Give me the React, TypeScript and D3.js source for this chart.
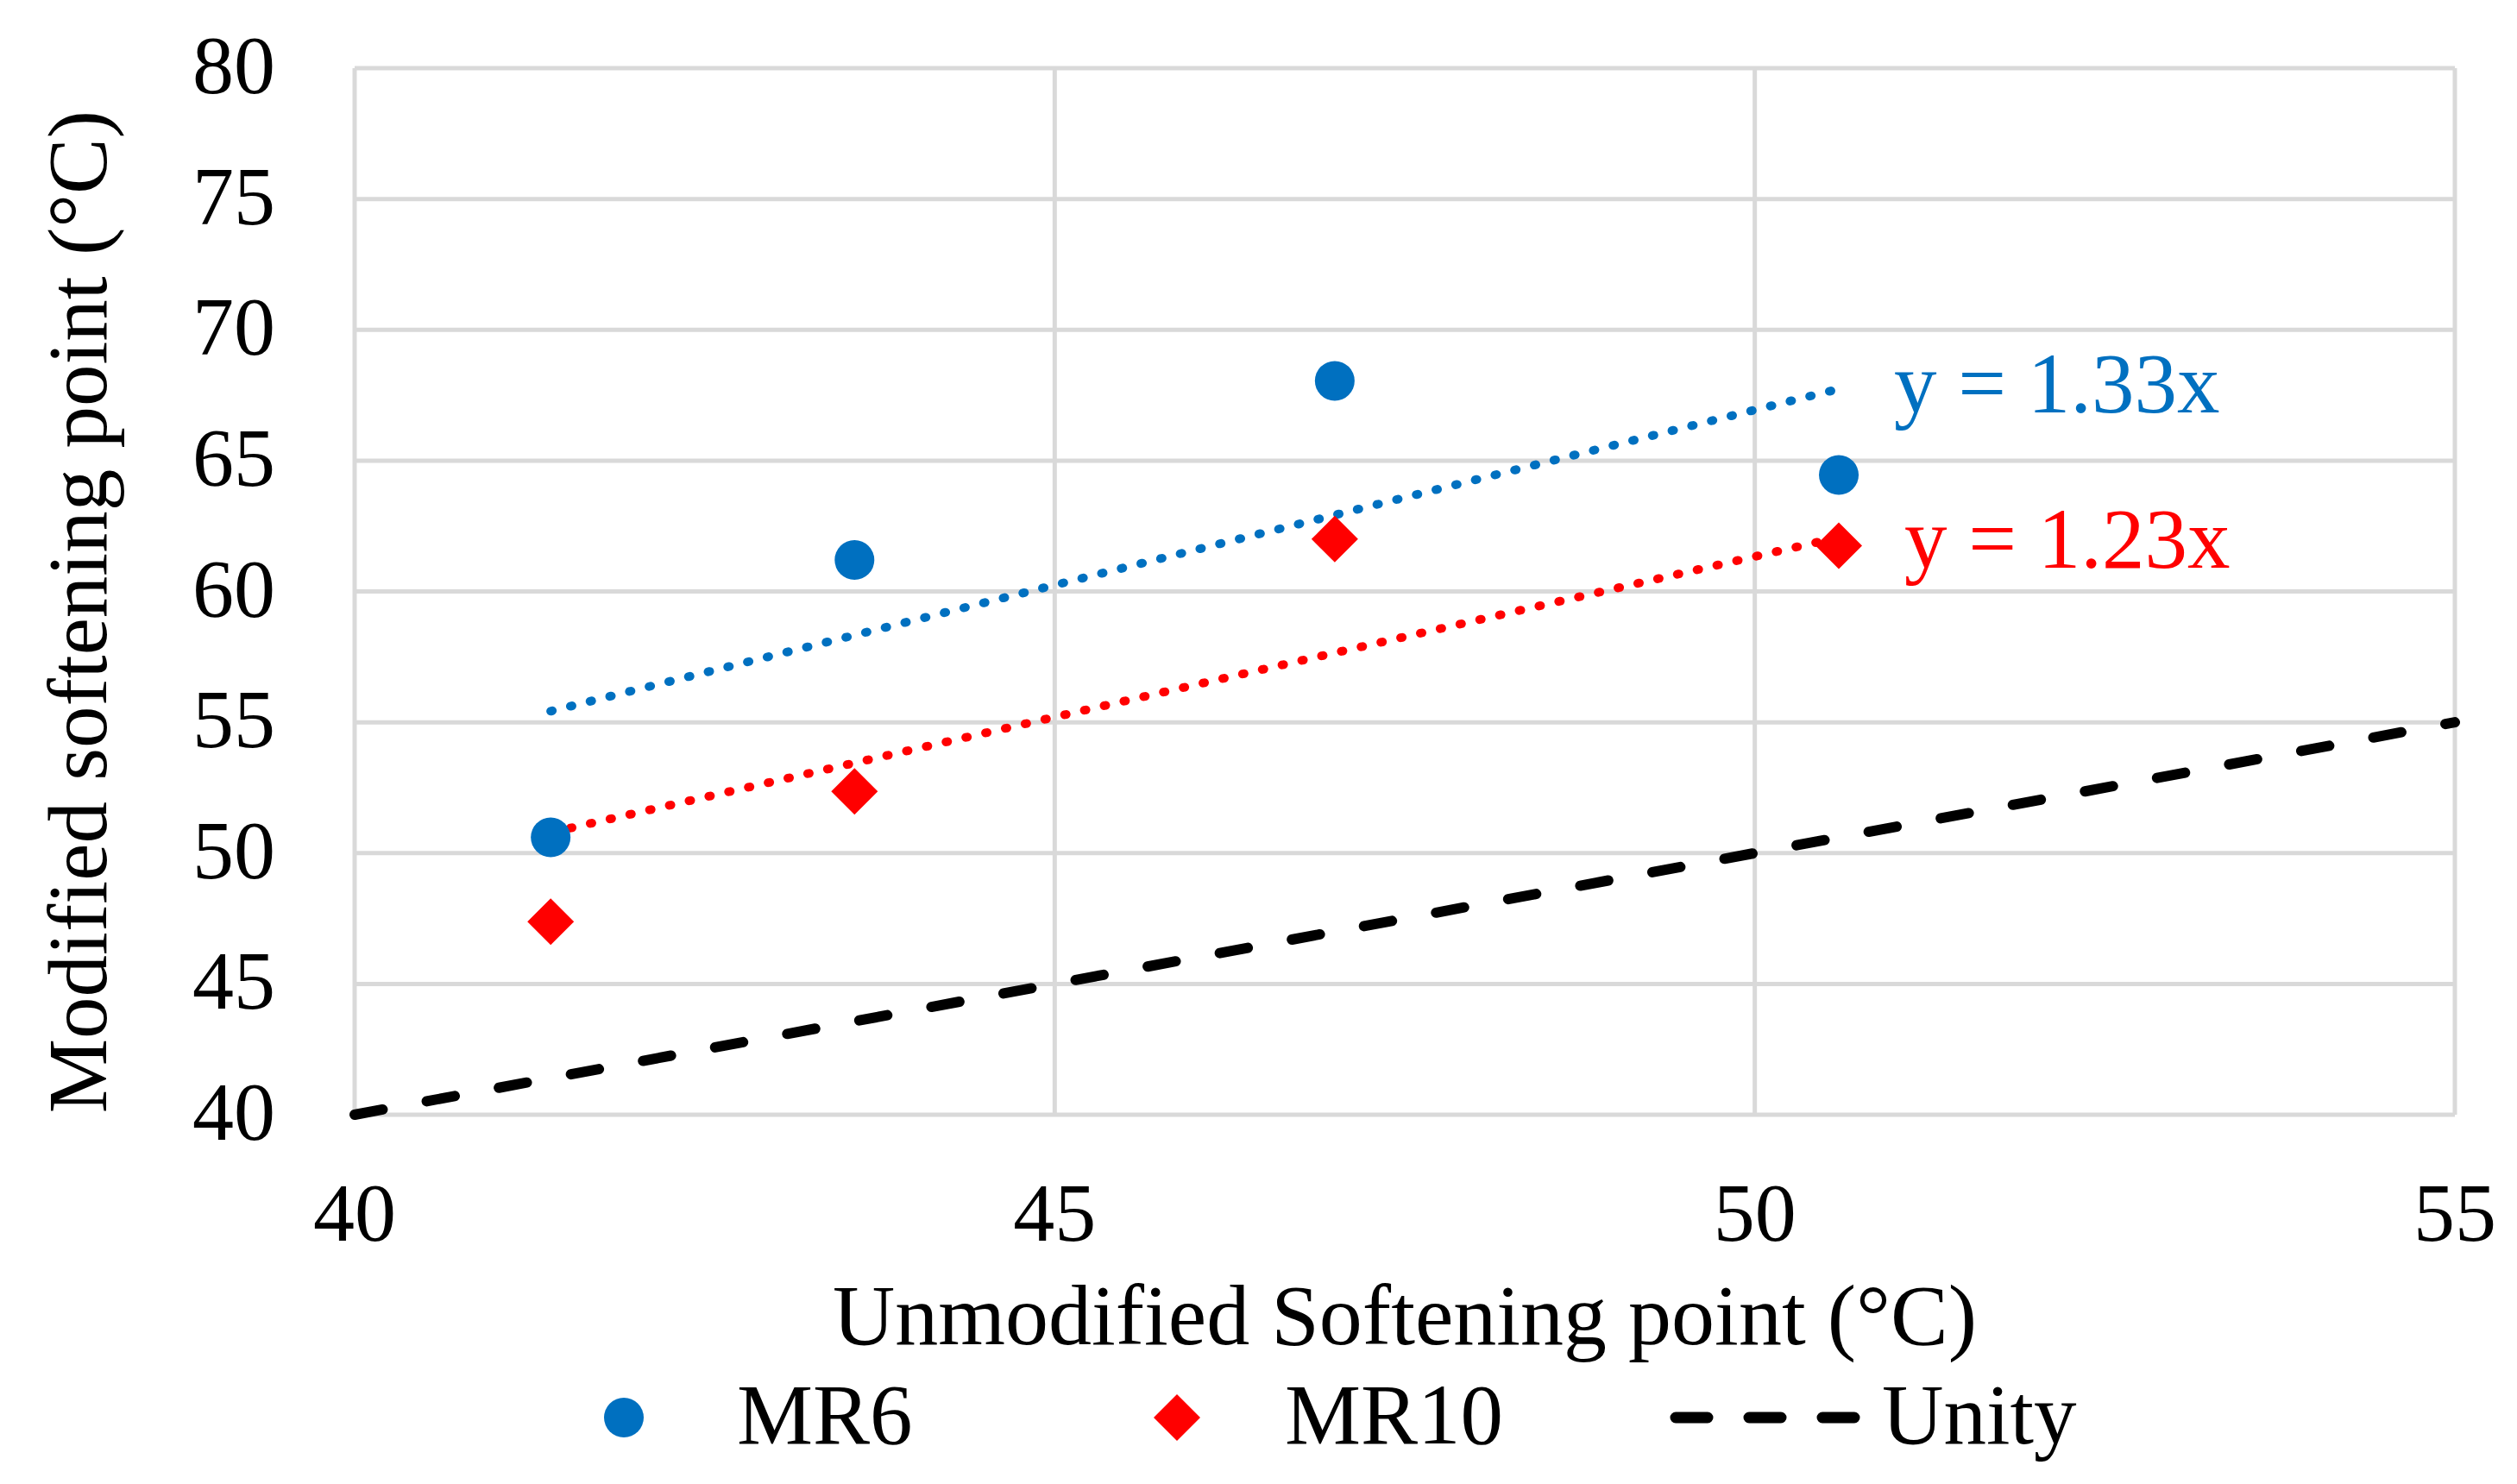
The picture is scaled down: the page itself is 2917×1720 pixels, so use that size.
// Softening point scatter: modified vs unmodified, with zero-intercept trendlines and unity line
import * as d3 from "d3"

const xTicks = [40, 45, 50, 55]
const yTicks = [40, 45, 50, 55, 60, 65, 70, 75, 80]

// unmodified softening point (°C), shared by both series
const unmodified = [41.4, 43.57, 47.0, 50.6]
const mr6 = [50.6, 61.2, 68.05, 64.45]
const mr10 = [47.38, 52.36, 62.0, 61.75]
const unity = [40, 55]

const eqLabels = ["y = 1.33x", "y = 1.23x"]
const legendLabels = ["MR6", "MR10", "Unity"]

const BLUE = "#0070C0"
const RED = "#FF0000"
const GRID = "#d9d9d9"
const FONT = "'Liberation Serif', 'Times New Roman', serif"

const W = 2917
const H = 1720
const margin = { top: 79, right: 72, bottom: 428, left: 411 }

// least squares through the origin, like Excel's "set intercept = 0"
const slope = (xs: number[], ys: number[]) =>
  d3.sum(xs, (d, i) => d * ys[i]) / d3.sum(xs, d => d * d)

export default function App() {
  const x = d3.scaleLinear().domain([40, 55]).range([margin.left, W - margin.right])
  const y = d3.scaleLinear().domain([40, 80]).range([H - margin.bottom, margin.top])

  const line = d3.line<[number, number]>().x(d => x(d[0])).y(d => y(d[1]))
  const [x0, x1] = d3.extent(unmodified) as [number, number]

  const k6 = slope(unmodified, mr6)
  const k10 = slope(unmodified, mr10)
  const trend6: [number, number][] = [[x0, k6 * x0], [x1, k6 * x1]]
  const trend10: [number, number][] = [[x0, k10 * x0], [x1, k10 * x1]]

  const diamond = (cx: number, cy: number, r: number) =>
    `M${cx},${cy - r}L${cx + r},${cy}L${cx},${cy + r}L${cx - r},${cy}Z`

  const legendY = 1643

  return (
    <div style={{ position: "absolute", left: 0, top: 0 }}>
      <svg width={W} height={H} style={{ display: "block", background: "#fff" }} fontFamily={FONT}>
        {/* grid */}
        {yTicks.map(t => (
          <line key={"gy" + t} x1={x(40)} x2={x(55)} y1={y(t)} y2={y(t)} stroke={GRID} strokeWidth={5} />
        ))}
        {xTicks.map(t => (
          <line key={"gx" + t} x1={x(t)} x2={x(t)} y1={y(40)} y2={y(80)} stroke={GRID} strokeWidth={5} />
        ))}

        {/* unity line */}
        <path
          d={line(unity.map(v => [v, v]) as [number, number][]) || ""}
          fill="none" stroke="#000" strokeWidth={12} strokeLinecap="round" strokeDasharray="33 52"
        />

        {/* trendlines */}
        <path d={line(trend6) || ""} fill="none" stroke={BLUE} strokeWidth={10}
          strokeLinecap="round" strokeDasharray="2 21.5" />
        <path d={line(trend10) || ""} fill="none" stroke={RED} strokeWidth={10}
          strokeLinecap="round" strokeDasharray="2 21.5" />

        {/* points */}
        {unmodified.map((u, i) => (
          <circle key={"c" + i} cx={x(u)} cy={y(mr6[i])} r={23} fill={BLUE} />
        ))}
        {unmodified.map((u, i) => (
          <path key={"d" + i} d={diamond(x(u), y(mr10[i]), 27)} fill={RED} />
        ))}

        {/* equation labels */}
        <text x={x(x1) + 64} y={y(k6 * x1) + 27} fontSize={99} fill={BLUE}>{eqLabels[0]}</text>
        <text x={x(x1) + 76} y={y(k10 * x1) + 35} fontSize={99} fill={RED}>{eqLabels[1]}</text>

        {/* y ticks */}
        {yTicks.map(t => (
          <text key={"ty" + t} x={margin.left - 92} y={y(t) + 29} fontSize={96} textAnchor="end">{t}</text>
        ))}
        {/* x ticks */}
        {xTicks.map(t => (
          <text key={"tx" + t} x={x(t)} y={y(40) + 146} fontSize={96} textAnchor="middle">{t}</text>
        ))}

        {/* axis titles */}
        <text x={(x(40) + x(55)) / 2} y={1558} fontSize={100} textAnchor="middle">
          Unmodified Softening point (°C)
        </text>
        <text transform={`translate(123,709) rotate(-90)`} fontSize={97} textAnchor="middle">
          Modified softening point (°C)
        </text>

        {/* legend */}
        <circle cx={723} cy={legendY} r={23} fill={BLUE} />
        <text x={854} y={legendY + 30} fontSize={99}>{legendLabels[0]}</text>
        <path d={diamond(1364, legendY, 27)} fill={RED} />
        <text x={1489} y={legendY + 30} fontSize={99}>{legendLabels[1]}</text>
        <line x1={1942} x2={2149} y1={legendY} y2={legendY} stroke="#000" strokeWidth={13}
          strokeLinecap="round" strokeDasharray="37 48" />
        <text x={2181} y={legendY + 30} fontSize={99}>{legendLabels[2]}</text>
      </svg>
    </div>
  )
}
